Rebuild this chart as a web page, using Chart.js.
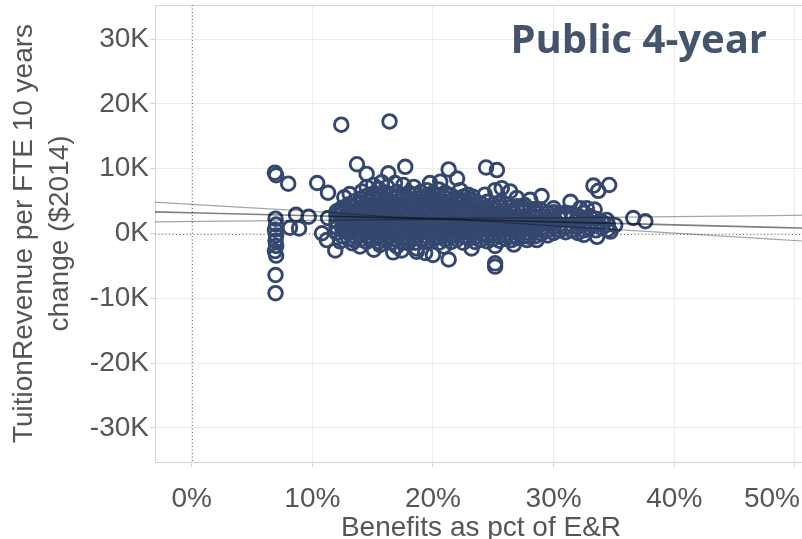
<!DOCTYPE html>
<html>
<head>
<meta charset="utf-8">
<script src="https://cdn.jsdelivr.net/npm/chart.js@4.4.1/dist/chart.umd.min.js"></script>
<style>
  body { margin: 0; overflow: hidden; background: #fff; }
  canvas { display: block; }
</style>
</head>
<body>
<canvas id="chart" width="807" height="539"></canvas>
<script>
const chartCanvas = document.getElementById("chart");

// Axis ticks (x in percent, y in thousands of $)
const xTicks = [0, 10, 20, 30, 40, 50];
const yTicks = [-30, -20, -10, 0, 10, 20, 30];

// Dense cloud of institutions, read column by column: [benefits pct, [tuition change K ...]]
const blobColumns = [
  [12.0, [0.1, 1.0, 1.9, 2.8, 3.4]],
  [12.5, [-0.4, 0.5, 1.4, 2.3, 3.2, 4.0]],
  [13.0, [-0.8, 0.1, 1.0, 1.9, 2.7, 3.6, 4.5]],
  [13.5, [-1.1, -0.4, 0.5, 1.4, 2.3, 3.2, 4.1, 5.0]],
  [14.0, [-0.9, 0.0, 1.0, 1.8, 2.8, 3.7, 4.6, 5.4]],
  [14.5, [-1.3, -0.4, 0.5, 1.4, 2.3, 3.2, 4.1, 5.0, 5.8]],
  [15.0, [-0.9, 0.1, 0.9, 1.9, 2.7, 3.7, 4.5, 5.5, 6.1]],
  [15.5, [-1.3, -0.4, 0.6, 1.4, 2.3, 3.3, 4.1, 5.0, 5.9]],
  [16.0, [-0.8, 0.0, 1.0, 1.8, 2.8, 3.6, 4.6, 5.4, 6.3]],
  [16.5, [-1.4, -0.4, 0.5, 1.5, 2.3, 3.2, 4.2, 5.0, 5.9]],
  [17.0, [-0.9, 0.1, 0.9, 1.9, 2.7, 3.7, 4.5, 5.5, 6.4]],
  [17.5, [-1.3, -0.5, 0.5, 1.4, 2.4, 3.2, 4.1, 5.1, 5.9]],
  [18.0, [-0.8, 0.0, 1.0, 1.8, 2.8, 3.6, 4.6, 5.4, 6.3]],
  [18.5, [-1.4, -0.4, 0.6, 1.4, 2.3, 3.3, 4.1, 5.0, 6.0]],
  [19.0, [-0.9, 0.1, 0.9, 1.9, 2.7, 3.7, 4.5, 5.5, 6.4]],
  [19.5, [-1.3, -0.4, 0.5, 1.4, 2.4, 3.2, 4.1, 5.1, 5.9, 6.7]],
  [20.0, [-0.8, 0.0, 1.0, 1.8, 2.8, 3.6, 4.6, 5.4, 6.3]],
  [20.5, [-1.4, -0.5, 0.5, 1.5, 2.3, 3.2, 4.2, 5.0, 5.9, 6.8]],
  [21.0, [-0.9, 0.1, 0.9, 1.9, 2.7, 3.7, 4.5, 5.5, 6.3]],
  [21.5, [-1.3, -0.4, 0.6, 1.4, 2.3, 3.3, 4.1, 5.0, 5.9]],
  [22.0, [-0.9, 0.0, 1.0, 1.8, 2.8, 3.6, 4.6, 5.4]],
  [22.5, [-1.4, -0.4, 0.5, 1.4, 2.4, 3.2, 4.1, 5.1, 5.7]],
  [23.0, [-0.8, 0.1, 0.9, 1.9, 2.7, 3.7, 4.5, 5.3]],
  [23.5, [-1.3, -0.5, 0.5, 1.5, 2.3, 3.2, 4.2, 5.0]],
  [24.0, [-0.9, 0.0, 1.0, 1.8, 2.8, 3.6, 4.6]],
  [24.5, [-1.2, -0.4, 0.6, 1.4, 2.3, 3.3, 4.1, 4.9]],
  [25.0, [-0.8, 0.1, 0.9, 1.9, 2.7, 3.7, 4.5]],
  [25.5, [-1.1, -0.4, 0.5, 1.4, 2.4, 3.2, 4.1, 4.7]],
  [26.0, [-0.8, 0.0, 1.0, 1.8, 2.8, 3.6, 4.5]],
  [26.5, [-1.0, -0.4, 0.5, 1.5, 2.3, 3.2, 4.1]],
  [27.0, [-0.7, 0.1, 0.9, 1.9, 2.7, 3.6, 4.2]],
  [27.5, [-0.4, 0.6, 1.4, 2.3, 3.3, 4.0]],
  [28.0, [-0.5, 0.1, 1.0, 1.8, 2.8, 3.6]],
  [28.5, [-0.4, 0.5, 1.4, 2.4, 3.2, 3.8]],
  [29.0, [0.0, 0.9, 1.9, 2.7, 3.6]],
  [29.5, [-0.3, 0.5, 1.5, 2.3, 3.2]],
  [30.0, [0.1, 1.0, 1.8, 2.7, 3.3]],
  [30.5, [0.5, 1.4, 2.3, 3.1]],
  [31.0, [0.2, 1.0, 2.6, 3.2]],
  [31.5, [0.5, 1.4, 2.3, 3.1]],
  [32.0, [0.1, 1.0, 1.9, 2.8]],
  [32.5, [0.5, 1.4, 2.3, 3.2]],
  [33.0, [0.9, 1.8, 2.7]],
  [33.5, [0.5, 1.4, 2.3]],
  [34.0, [0.9, 1.8]],
  [34.5, [0.6, 1.4]],
];

// Individual points around the cloud: [benefits pct, tuition change K]
const outlierPoints = [
  [6.9, 9.4], [7.0, 9.0], [6.95, 2.3], [7.0, 1.4], [6.9, 0.6], [7.0, -0.3],
  [6.95, -1.1], [7.0, -1.9], [6.9, -2.7], [7.0, -3.4], [6.95, -6.4], [6.95, -9.2],
  [8.0, 7.7], [8.65, 2.9], [9.7, 2.6], [8.15, 0.9], [8.9, 0.8], [10.4, 7.8],
  [11.3, 6.3], [11.3, 2.4], [10.8, 0.05], [11.2, -1.0], [11.9, -2.6], [12.3, 3.7],
  [12.4, 16.8], [16.4, 17.3], [13.7, 10.7], [14.5, 9.2], [16.3, 9.3], [17.7, 10.3],
  [21.3, 9.9], [24.4, 10.2], [25.3, 9.8], [22.0, 8.5], [15.75, 7.9],
  [12.65, 5.6], [13.1, 6.1], [14.1, 6.5], [14.5, 7.2], [15.05, 7.5], [15.5, 6.9],
  [16.2, 7.2], [16.85, 7.8], [17.55, 7.5], [18.4, 7.2], [19.75, 7.8], [20.6, 8.0],
  [22.25, 6.7], [22.9, 6.0], [23.3, 5.7], [24.3, 6.0], [25.15, 6.7], [25.7, 7.0],
  [26.4, 6.5], [26.95, 5.5], [27.6, 4.4], [28.05, 5.2], [29.0, 5.8], [30.0, 3.9],
  [31.4, 4.9], [32.2, 3.9], [32.75, 3.9], [33.4, 3.7], [33.3, 7.4], [33.7, 6.6],
  [34.6, 7.5], [34.4, 2.1],
  [12.3, -1.2], [13.3, -1.5], [13.95, -2.0], [15.1, -2.5], [15.6, -1.75], [16.7, -2.9],
  [17.0, -2.0], [17.4, -2.6], [17.95, -1.5], [18.65, -2.8], [18.65, -2.3], [19.35, -3.0],
  [20.0, -3.3], [20.9, -2.0], [21.3, -4.0], [23.2, -2.3], [23.9, -1.0], [25.15, -1.9],
  [25.15, -4.6], [25.15, -5.1], [26.7, -1.7], [27.8, -1.0], [28.6, -1.0], [32.5, -0.2],
  [33.6, -0.5], [34.7, 0.3], [35.1, 1.3],
  [36.6, 2.4], [37.6, 1.9],
];

// Trend line with its confidence band
const trendX = [-4, 10, 20, 30, 40, 52];
const trendFit = [3.4, 2.74, 2.28, 1.81, 1.34, 0.78];
const trendUpper = [4.95, 3.43, 2.38, 2.43, 2.61, 2.86];
const trendLower = [1.78, 2.05, 2.18, 1.19, 0.07, -1.3];

const fontFamily = "'Liberation Sans', Arial, sans-serif";
const tickFontSize = 28;
const tickPadding = 15;
const markColor = "#33476f";
const visibleWidth = 802;

// Build scatter data from the tables above
let scatterData = [];
blobColumns.forEach(([x, ys]) => {
  ys.forEach((y) => scatterData.push({ x: x, y: y }));
});
outlierPoints.forEach(([x, y]) => scatterData.push({ x: x, y: y }));

function lineData(ys) {
  return trendX.map((x, i) => ({ x: x, y: ys[i] }));
}

function trendDataset(ys, color, width) {
  return {
    data: lineData(ys),
    showLine: true,
    borderColor: color,
    borderWidth: width,
    pointRadius: 0,
    cubicInterpolationMode: "monotone",
    order: 0,
  };
}

const lastXTick = xTicks[xTicks.length - 1];

// Dotted zero lines, top frame, last x label (kept inside the view) and the slide heading
const decorations = {
  id: "decorations",
  beforeDatasetsDraw(chart) {
    const { ctx, chartArea, scales } = chart;
    const x0 = Math.round(scales.x.getPixelForValue(0)) + 0.5;
    const y0 = Math.round(scales.y.getPixelForValue(0)) + 0.5;
    ctx.save();
    ctx.strokeStyle = "#d4d4d4";
    ctx.lineWidth = 1;
    ctx.beginPath();
    ctx.moveTo(chartArea.left, chartArea.top + 0.5);
    ctx.lineTo(chartArea.right, chartArea.top + 0.5);
    ctx.stroke();
    ctx.strokeStyle = "#6e6e6e";
    ctx.setLineDash([1, 2.5]);
    ctx.beginPath();
    ctx.moveTo(x0, chartArea.top);
    ctx.lineTo(x0, chartArea.bottom);
    ctx.moveTo(chartArea.left, y0);
    ctx.lineTo(chartArea.right, y0);
    ctx.stroke();
    ctx.restore();
  },
  afterDraw(chart) {
    const { ctx, scales } = chart;
    ctx.save();
    const label = lastXTick + "%";
    ctx.font = tickFontSize + "px " + fontFamily;
    ctx.fillStyle = "#555";
    ctx.textAlign = "center";
    ctx.textBaseline = "middle";
    const half = ctx.measureText(label).width / 2;
    const lx = Math.min(scales.x.getPixelForValue(lastXTick), visibleWidth - half - 2);
    const ly = scales.x.top + 5 + tickPadding + (tickFontSize * 1.2) / 2;
    ctx.fillText(label, lx, ly);

    ctx.font = "700 40px 'Open Sans', sans-serif";
    ctx.fillStyle = "#44546a";
    ctx.textAlign = "right";
    ctx.textBaseline = "alphabetic";
    ctx.fillText("Public 4-year", 767, 53);
    ctx.restore();
  },
};

new Chart(chartCanvas, {
  type: "scatter",
  data: {
    datasets: [
      trendDataset(trendUpper, "rgba(0,0,0,0.35)", 1.2),
      trendDataset(trendLower, "rgba(0,0,0,0.35)", 1.2),
      trendDataset(trendFit, "rgba(0,0,0,0.5)", 1.6),
      {
        data: scatterData,
        pointRadius: 6.8,
        pointBorderWidth: 2.9,
        borderColor: markColor,
        backgroundColor: "rgba(0,0,0,0)",
        order: 1,
      },
    ],
  },
  options: {
    responsive: false,
    animation: false,
    layout: { autoPadding: false, padding: { top: 5, right: 0, bottom: 0, left: 0 } },
    plugins: {
      legend: { display: false },
      tooltip: { enabled: false },
    },
    scales: {
      x: {
        type: "linear",
        min: -3.04,
        max: 51.0,
        afterBuildTicks: (axis) => {
          axis.ticks = xTicks.map((v) => ({ value: v }));
        },
        afterFit: (axis) => {
          axis.height = 77;
          axis.paddingLeft = 0;
          axis.paddingRight = 0;
        },
        grid: { color: "#ebebeb", tickColor: "#d4d4d4", tickLength: 5 },
        border: { color: "#d4d4d4" },
        ticks: {
          color: "#555",
          font: { family: fontFamily, size: tickFontSize },
          padding: tickPadding,
          autoSkip: false,
          maxRotation: 0,
          // the last label is drawn by the plugin so it stays inside the view
          callback: (v) => (v === lastXTick ? "" : v + "%"),
        },
        title: {
          display: true,
          text: "Benefits as pct of E&R",
          color: "#555",
          font: { family: fontFamily, size: 28, lineHeight: 0.75 },
          padding: 0,
        },
      },
      y: {
        type: "linear",
        min: -35.25,
        max: 35.27,
        afterBuildTicks: (axis) => {
          axis.ticks = yTicks.map((v) => ({ value: v }));
        },
        afterFit: (axis) => {
          axis.width = 155;
          axis.paddingTop = 0;
          axis.paddingBottom = 0;
        },
        grid: { color: "#ebebeb", tickColor: "#d4d4d4", tickLength: 5 },
        border: { color: "#d4d4d4" },
        ticks: {
          color: "#555",
          font: { family: fontFamily, size: tickFontSize },
          padding: 1,
          autoSkip: false,
          callback: (v) => v + "K",
        },
        title: {
          display: true,
          text: ["TuitionRevenue per FTE 10 years", "change ($2014)"],
          color: "#555",
          font: { family: fontFamily, size: 28, lineHeight: 1.27 },
          padding: { top: 7, bottom: 0 },
        },
      },
    },
  },
  plugins: [decorations],
});
</script>
</body>
</html>
